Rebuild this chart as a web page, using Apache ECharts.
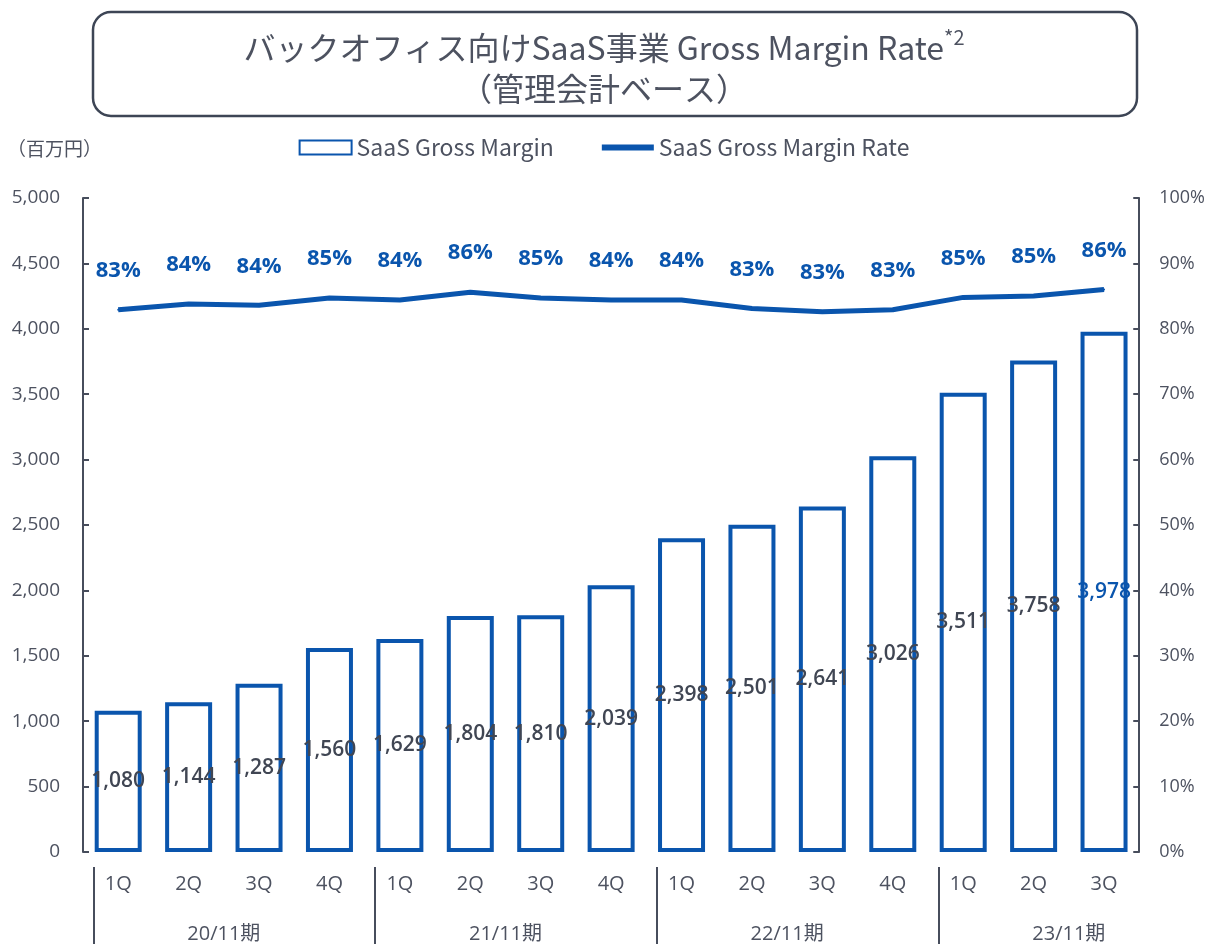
<!DOCTYPE html>
<html>
<head>
<meta charset="utf-8">
<script src="https://cdn.jsdelivr.net/npm/echarts@6/dist/echarts.min.js"></script>
<style>
  html, body { margin: 0; padding: 0; background: #fff; }
  #chart { width: 1208px; height: 944px; }
</style>
</head>
<body>
<div id="chart"></div>
<script>
// quarters on the x axis
const quarters = ["1Q", "2Q", "3Q", "4Q", "1Q", "2Q", "3Q", "4Q", "1Q", "2Q", "3Q", "4Q", "1Q", "2Q", "3Q"];
// fiscal years and the index of their first quarter
const fiscalYears = ["20/11期", "21/11期", "22/11期", "23/11期"];
const yearStartIndex = [0, 4, 8, 12];
// SaaS Gross Margin (百万円)
const grossMargin = [1080, 1144, 1287, 1560, 1629, 1804, 1810, 2039, 2398, 2501, 2641, 3026, 3511, 3758, 3978];
// SaaS Gross Margin Rate (%)
const marginRate = [82.9, 83.8, 83.6, 84.7, 84.4, 85.6, 84.7, 84.4, 84.4, 83.1, 82.6, 82.9, 84.8, 85.0, 86.0];

const blue = "#0a55ad";
const grey = "#4d5260";
const axisGrey = "#474d5c";

// separators sit near the left edge of each year's first bar, labels in the middle of a 4-quarter year
const yearSeparators = yearStartIndex.map((i) => i - 0.35);
const yearLabelPos = yearStartIndex.map((i) => i + 1.5);

const chart = echarts.init(document.getElementById("chart"));

chart.setOption({
  animation: false,
  textStyle: { fontFamily: "'Open Sans', 'Noto Sans CJK JP', sans-serif" },
  title: [
    {
      text: "{t|バックオフィス向けSaaS事業 Gross Margin Rate}{sup|*2}\n{t|（管理会計ベース）}",
      left: "center",
      top: 22,
      textStyle: {
        fontWeight: "normal",
        rich: {
          t: { fontSize: 32, color: grey, lineHeight: 41, fontWeight: "normal", fontFamily: "'Noto Sans CJK JP'" },
          sup: { fontSize: 20, color: grey, verticalAlign: "top", lineHeight: 41, fontWeight: "normal", padding: [0, 0, 14, 0], fontFamily: "'Noto Sans CJK JP'" },
        },
      },
    },
    {
      text: "（百万円）",
      left: 2,
      top: 134,
      textStyle: { fontSize: 19, fontWeight: "normal", color: grey, fontFamily: "'Noto Sans CJK JP'" },
    },
  ],
  graphic: [
    {
      type: "rect",
      shape: { x: 93, y: 12, width: 1044, height: 104, r: 18 },
      style: { fill: "none", stroke: "#3d4555", lineWidth: 2.5 },
      z: -1,
    },
  ],
  legend: {
    top: 131,
    left: "center",
    itemWidth: 52,
    itemHeight: 14,
    itemGap: 48,
    textStyle: { fontSize: 23, color: grey, fontFamily: "'Noto Sans CJK JP'" },
    data: [
      { name: "SaaS Gross Margin", icon: "rect" },
      { name: "SaaS Gross Margin Rate", icon: "path://M0,0H52V6H0Z" },
    ],
  },
  grid: {
    left: 83,
    right: 68,
    top: 198,
    bottom: 91,
  },
  xAxis: [
    {
      type: "category",
      data: quarters,
      axisLine: { show: false, onZero: false },
      axisTick: { show: false },
      axisLabel: { margin: 22, fontSize: 20, color: grey },
    },
    {
      type: "value",
      position: "bottom",
      offset: 15,
      min: -0.5,
      max: quarters.length - 0.5,
      axisLine: { show: false, onZero: false },
      splitLine: { show: false },
      axisTick: {
        show: true,
        length: 80,
        customValues: yearSeparators,
        lineStyle: { color: axisGrey, width: 2 },
      },
      axisLabel: {
        margin: 57,
        fontSize: 20,
        color: grey,
        customValues: yearLabelPos,
        formatter: (v) => fiscalYears[yearLabelPos.indexOf(v)] || "",
      },
    },
  ],
  yAxis: [
    {
      type: "value",
      min: 0,
      max: 5000,
      interval: 500,
      axisLine: { show: true, onZero: false, lineStyle: { color: axisGrey, width: 2 } },
      axisTick: { show: true, inside: true, length: 6, lineStyle: { color: axisGrey, width: 2 } },
      splitLine: { show: false },
      axisLabel: {
        margin: 23,
        fontSize: 19,
        color: grey,
        formatter: (v) => v.toLocaleString("en-US"),
      },
    },
    {
      type: "value",
      min: 0,
      max: 100,
      interval: 10,
      position: "right",
      axisLine: { show: true, onZero: false, lineStyle: { color: axisGrey, width: 2 } },
      axisTick: { show: true, inside: true, length: 6, lineStyle: { color: axisGrey, width: 2 } },
      splitLine: { show: false },
      axisLabel: { margin: 20, fontSize: 18, color: grey, formatter: "{value}%" },
    },
  ],
  series: [
    {
      name: "SaaS Gross Margin",
      type: "bar",
      barWidth: 47,
      itemStyle: { color: "#ffffff", borderColor: blue, borderWidth: 4 },
      label: {
        show: true,
        position: "inside",
        fontSize: 21,
        fontWeight: 600,
        color: "#404653",
        formatter: (p) => p.value.toLocaleString("en-US"),
      },
      // latest quarter label drawn in blue
      data: grossMargin.map((v, i) =>
        i === grossMargin.length - 1 ? { value: v, label: { color: blue } } : v
      ),
    },
    {
      name: "SaaS Gross Margin Rate",
      type: "line",
      yAxisIndex: 1,
      symbol: "circle",
      symbolSize: 2,
      itemStyle: { color: blue },
      lineStyle: { color: blue, width: 5 },
      label: {
        show: true,
        position: "top",
        distance: 27,
        fontSize: 22,
        fontWeight: "bold",
        color: blue,
        formatter: (p) => Math.round(p.value) + "%",
      },
      data: marginRate,
    },
  ],
});
</script>
</body>
</html>
